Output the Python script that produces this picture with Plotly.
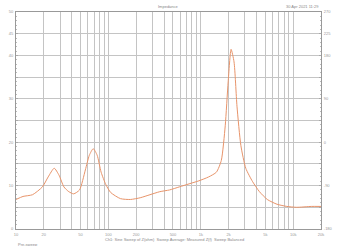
import plotly.graph_objects as go

freq_hz = [10, 11.9, 15.1, 19.3, 22.3, 25.9, 29.2, 33.0, 37.3, 42.1, 48.7, 56.3, 62.2, 68.5,
           75.6, 83.4, 94, 106, 135, 173, 221, 282, 360, 459, 585, 747, 953, 1216, 1476,
           1667, 1839, 1978, 2128, 2290, 2464, 2717, 3068, 3638, 4315, 5248, 6688, 8531,
           10890, 15700, 20000]
impedance_ohm = [6.8, 7.5, 7.9, 9.7, 12.0, 14.0, 12.4, 9.7, 8.6, 8.1, 9.0, 13.6, 17.0, 18.5,
                 17.0, 13.1, 10.2, 8.4, 7.0, 6.8, 7.2, 7.9, 8.6, 9.0, 9.7, 10.4, 11.1, 12.0, 13.1,
                 15.8, 23.8, 33.9, 41.4, 38.5, 28.3, 19.2, 14.0, 10.9, 8.6, 6.8, 5.7, 5.2,
                 5.0, 5.2, 5.2]

grid_freqs = [m * 10 ** e for e in range(1, 5) for m in range(1, 10)] + [20000]
label_map = {10: "10", 20: "20", 50: "50", 100: "100", 200: "200", 500: "500",
             1000: "1k", 2000: "2k", 5000: "5k", 10000: "10k", 20000: "20k"}
x_ticktext = [label_map.get(f, "") for f in grid_freqs]

y_grid = [0, 5, 10, 15, 20, 25, 30, 35, 40, 45, 50]
y_labels = ["0", "", "10", "", "20", "", "30", "", "40", "45", "50"]
y2_labels = ["-180", "", "-90", "", "0", "", "90", "", "180", "225", "270"]

fig = go.Figure()
fig.add_trace(go.Scatter(x=freq_hz, y=impedance_ohm, mode="lines",
                         line=dict(color="#e8946a", width=1, shape="spline", smoothing=0.6),
                         showlegend=False))
fig.add_trace(go.Scatter(x=[10], y=[None], yaxis="y2", showlegend=False))

tickfont = dict(size=4, color="#999", family="Liberation Sans")
fig.update_layout(
    width=342, height=246,
    margin=dict(l=13, r=17, t=9, b=16),
    paper_bgcolor="white", plot_bgcolor="white",
    xaxis=dict(type="log", range=[1, 4.30103], tickvals=grid_freqs, ticktext=x_ticktext,
               showgrid=True, gridcolor="#c4c4c4", gridwidth=1, zeroline=False,
               showline=True, linecolor="#999", linewidth=1, mirror=True,
               tickfont=tickfont, ticks="", ticklabelstandoff=1),
    yaxis=dict(range=[0, 50], tickvals=y_grid, ticktext=y_labels,
               showgrid=True, gridcolor="#c4c4c4", gridwidth=1, zeroline=False,
               showline=True, linecolor="#999", linewidth=1,
               tickfont=tickfont, ticks="inside", ticklen=2, tickcolor="#aaa",
               minor=dict(ticks="inside", ticklen=1, dtick=1, tickcolor="#bbb"),
               ticklabelstandoff=1),
    yaxis2=dict(range=[0, 50], overlaying="y", side="right", tickvals=y_grid,
                ticktext=y2_labels, showgrid=False, zeroline=False,
                showline=True, linecolor="#999", linewidth=1,
                tickfont=tickfont, ticks="inside", ticklen=2, tickcolor="#aaa",
                minor=dict(ticks="inside", ticklen=1, dtick=1, tickcolor="#bbb"),
                ticklabelstandoff=1),
    font=dict(family="Liberation Sans", size=4, color="#999"),
)

fig.add_annotation(text="Impedance", x=0.5, y=1, xref="paper", yref="paper",
                   yanchor="bottom", showarrow=False, font=dict(size=4, color="#888"), yshift=1)
fig.add_annotation(text="30 Apr 2021 11:29", x=1, y=1, xref="paper", yref="paper",
                   xanchor="right", yanchor="bottom", showarrow=False,
                   font=dict(size=4, color="#888"), yshift=1)
fig.add_annotation(text="Ch1: Sine Sweep of Z(ohm)  Sweep Average: Measured Z(f)  Sweep Balanced", x=0.52, y=0,
                   xref="paper", yref="paper", yanchor="top", showarrow=False,
                   font=dict(size=4, color="#888"), yshift=-6)
fig.add_annotation(text="Pre-sweep", x=0, y=0, xref="paper", yref="paper",
                   xanchor="left", yanchor="top", showarrow=False,
                   font=dict(size=4, color="#888"), yshift=-11)

fig.write_html("out.html")
